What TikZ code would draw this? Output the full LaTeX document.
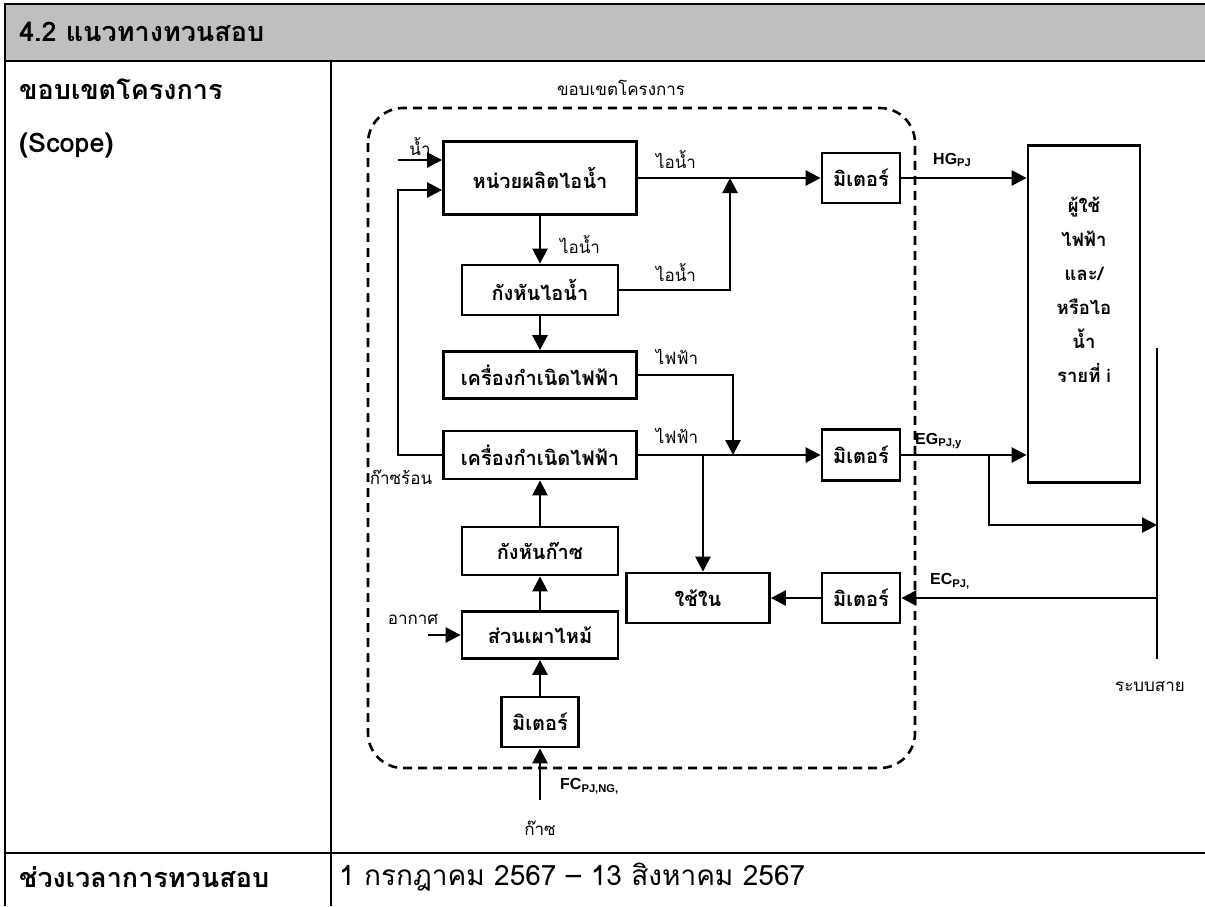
\documentclass[tikz,border=0pt]{standalone}
\usepackage{fontspec}
\usepackage{xcolor}
\usepackage{tikz}
\usetikzlibrary{positioning,calc,arrows.meta}
\newfontfamily\thaifont[Script=Thai]{Loma}
\newfontfamily\arialfont{Liberation Sans}
\definecolor{headgray}{RGB}{191,191,191}

\begin{document}
\begin{tikzpicture}[
	x=1pt, y=-1pt,
	unit/.style={
		draw=black, line width=2.8pt,
		inner sep=0pt,
		font=\thaifont\bfseries\fontsize{20}{24}\selectfont
	},
	lbl/.style={
		font=\thaifont\fontsize{17}{20}\selectfont, inner sep=0pt
	},
	qty/.style={
		font=\arialfont\bfseries\fontsize{16}{19}\selectfont, inner sep=0pt, anchor=west
	},
	cell/.style={
		font=\thaifont\bfseries\fontsize{27}{32}\selectfont, inner sep=0pt, anchor=west
	},
	flow/.style={line width=2.7pt, -{Triangle[length=15pt,width=15pt]}},
	wire/.style={line width=2.7pt},
	tblline/.style={line width=2.6pt},
	scopeline/.style={line width=2.6pt, dash pattern=on 9pt off 6pt, rounded corners=35pt}
	]
	
	\useasboundingbox (0,0) rectangle (1205,906);
	
	% --- TABLE ---
	\fill[headgray] (5,4) rectangle (1205,61);
	\draw[tblline] (1205,4) -- (5,4) -- (5,906);
	\draw[tblline] (5,61) -- (1205,61);
	\draw[tblline] (331,61) -- (331,906);
	\draw[tblline] (5,853) -- (1205,853);
	
	\node[cell] (title) at (19,32) {4.2 แนวทางทวนสอบ};
	\node[cell] (scopehead) at (19,89) {ขอบเขตโครงการ};
	\node[cell] (scopeen) at (19,146) {(Scope)};
	\node[cell] (periodhead) at (19,877) {ช่วงเวลาการทวนสอบ};
	\node[cell, font=\thaifont\fontsize{28}{32}\selectfont] (period) at (339,877) {1 กรกฎาคม 2567 – 13 สิงหาคม 2567};
	
	% --- PROJECT BOUNDARY ---
	\draw[scopeline] (368,108) rectangle (915,768);
	\node[lbl] (scopelbl) at (621,88) {ขอบเขตโครงการ};
	
	% --- UNITS ---
	\node[unit, minimum width=193pt, minimum height=73pt] (steamunit) at (540,178) {หน่วยผลิตไอน้ำ};
	\node[unit, minimum width=156pt, minimum height=50pt] (stturb) at (540,290) {กังหันไอน้ำ};
	\node[unit, minimum width=193pt, minimum height=47pt] (gen1) at (540,375) {เครื่องกำเนิดไฟฟ้า};
	\node[unit, minimum width=193pt, minimum height=48pt] (gen2) at (540,455) {เครื่องกำเนิดไฟฟ้า};
	\node[unit, minimum width=156pt, minimum height=48pt] (gturb) at (540,551) {กังหันก๊าซ};
	\node[unit, minimum width=156pt, minimum height=47pt] (burner) at (540,635) {ส่วนเผาไหม้};
	\node[unit, minimum width=77pt, minimum height=50pt] (mfuel) at (540,722) {มิเตอร์};
	\node[unit, minimum width=78pt, minimum height=50pt] (msteam) at (861,178) {มิเตอร์};
	\node[unit, minimum width=78pt, minimum height=51pt] (mexport) at (861,455) {มิเตอร์};
	\node[unit, minimum width=78pt, minimum height=50pt] (mimport) at (861,598) {มิเตอร์};
	\node[unit, minimum width=143pt, minimum height=50pt] (ownuse) at (698,598) {ใช้ใน};
	\node[unit, minimum width=112pt, minimum height=337pt] (client) at (1084,314) {};
	\node[unit, align=center, draw=none, font=\thaifont\bfseries\fontsize{18.5}{34}\selectfont] (clienttxt) at (1084,290)
		{ผู้ใช้\\ไฟฟ้า\\และ/\\หรือไอ\\น้ำ\\รายที่ i};
	
	% --- FREE ENDS ---
	\coordinate (waterin) at (398,160);
	\coordinate (fbturn) at (398,455);
	\coordinate (stjoin) at (730,178);
	\coordinate (eljoin) at (733,455);
	\coordinate (usesplit) at (703,455);
	\coordinate (gridsplit) at (989,455);
	\coordinate (gridin) at (1157,525);
	\coordinate (bustop) at (1157,348);
	\coordinate (busbot) at (1157,659);
	\coordinate (airin) at (428,635);
	\coordinate (gasin) at (540,800);
	
	% --- STEAM SIDE ---
	\draw[flow] (waterin) -- (waterin -| steamunit.west);
	\draw[flow] (gen2.west) -- (fbturn) |- ($(steamunit.west)+(0,12)$);
	\draw[flow] (steamunit) -- (stturb);
	\draw[flow] (steamunit.east) -- (msteam.west);
	\draw[flow] (stturb.east) -| (stjoin);
	\draw[flow] (msteam.east) -- (msteam.east -| client.west);
	
	% --- POWER SIDE ---
	\draw[flow] (stturb) -- (gen1);
	\draw[flow] (gen1.east) -| (eljoin);
	\draw[flow] (gen2.east) -- (mexport.west);
	\draw[flow] (usesplit) -- (usesplit |- ownuse.north);
	\draw[flow] (mexport.east) -- (mexport.east -| client.west);
	\draw[flow] (gridsplit) |- (gridin);
	\draw[wire] (bustop) -- (busbot);
	\draw[flow] (mimport.east -| bustop) -- (mimport.east);
	\draw[flow] (mimport.west) -- (ownuse.east);
	
	% --- GAS SIDE ---
	\draw[flow] (gturb) -- (gen2);
	\draw[flow] (burner) -- (gturb);
	\draw[flow] (mfuel) -- (burner);
	\draw[flow] (airin) -- (burner.west);
	\draw[flow] (gasin) -- (mfuel.south);
	
	% --- LABELS ---
	\node[lbl] (waterlbl) at (420,147) {น้ำ};
	\node[lbl] (steamlbl1) at (580,245) {ไอน้ำ};
	\node[lbl] (steamlbl2) at (676,160) {ไอน้ำ};
	\node[lbl] (steamlbl3) at (676,273) {ไอน้ำ};
	\node[lbl] (powerlbl1) at (677,357) {ไฟฟ้า};
	\node[lbl] (powerlbl2) at (677,436) {ไฟฟ้า};
	\node[lbl] (hotgaslbl) at (401,477) {ก๊าซร้อน};
	\node[lbl] (airlbl) at (413,619) {อากาศ};
	\node[lbl] (gaslbl) at (540,828) {ก๊าซ};
	\node[lbl] (gridlbl) at (1150,687) {ระบบสาย};
	\node[qty] (hglbl) at (933,160) {HG\textsubscript{PJ}};
	\node[qty] (eglbl) at (915,441) {EG\textsubscript{PJ,y}};
	\node[qty] (eclbl) at (930,581) {EC\textsubscript{PJ,}};
	\node[qty] (fclbl) at (560,786) {FC\textsubscript{PJ,NG,}};
	
\end{tikzpicture}
\end{document}
